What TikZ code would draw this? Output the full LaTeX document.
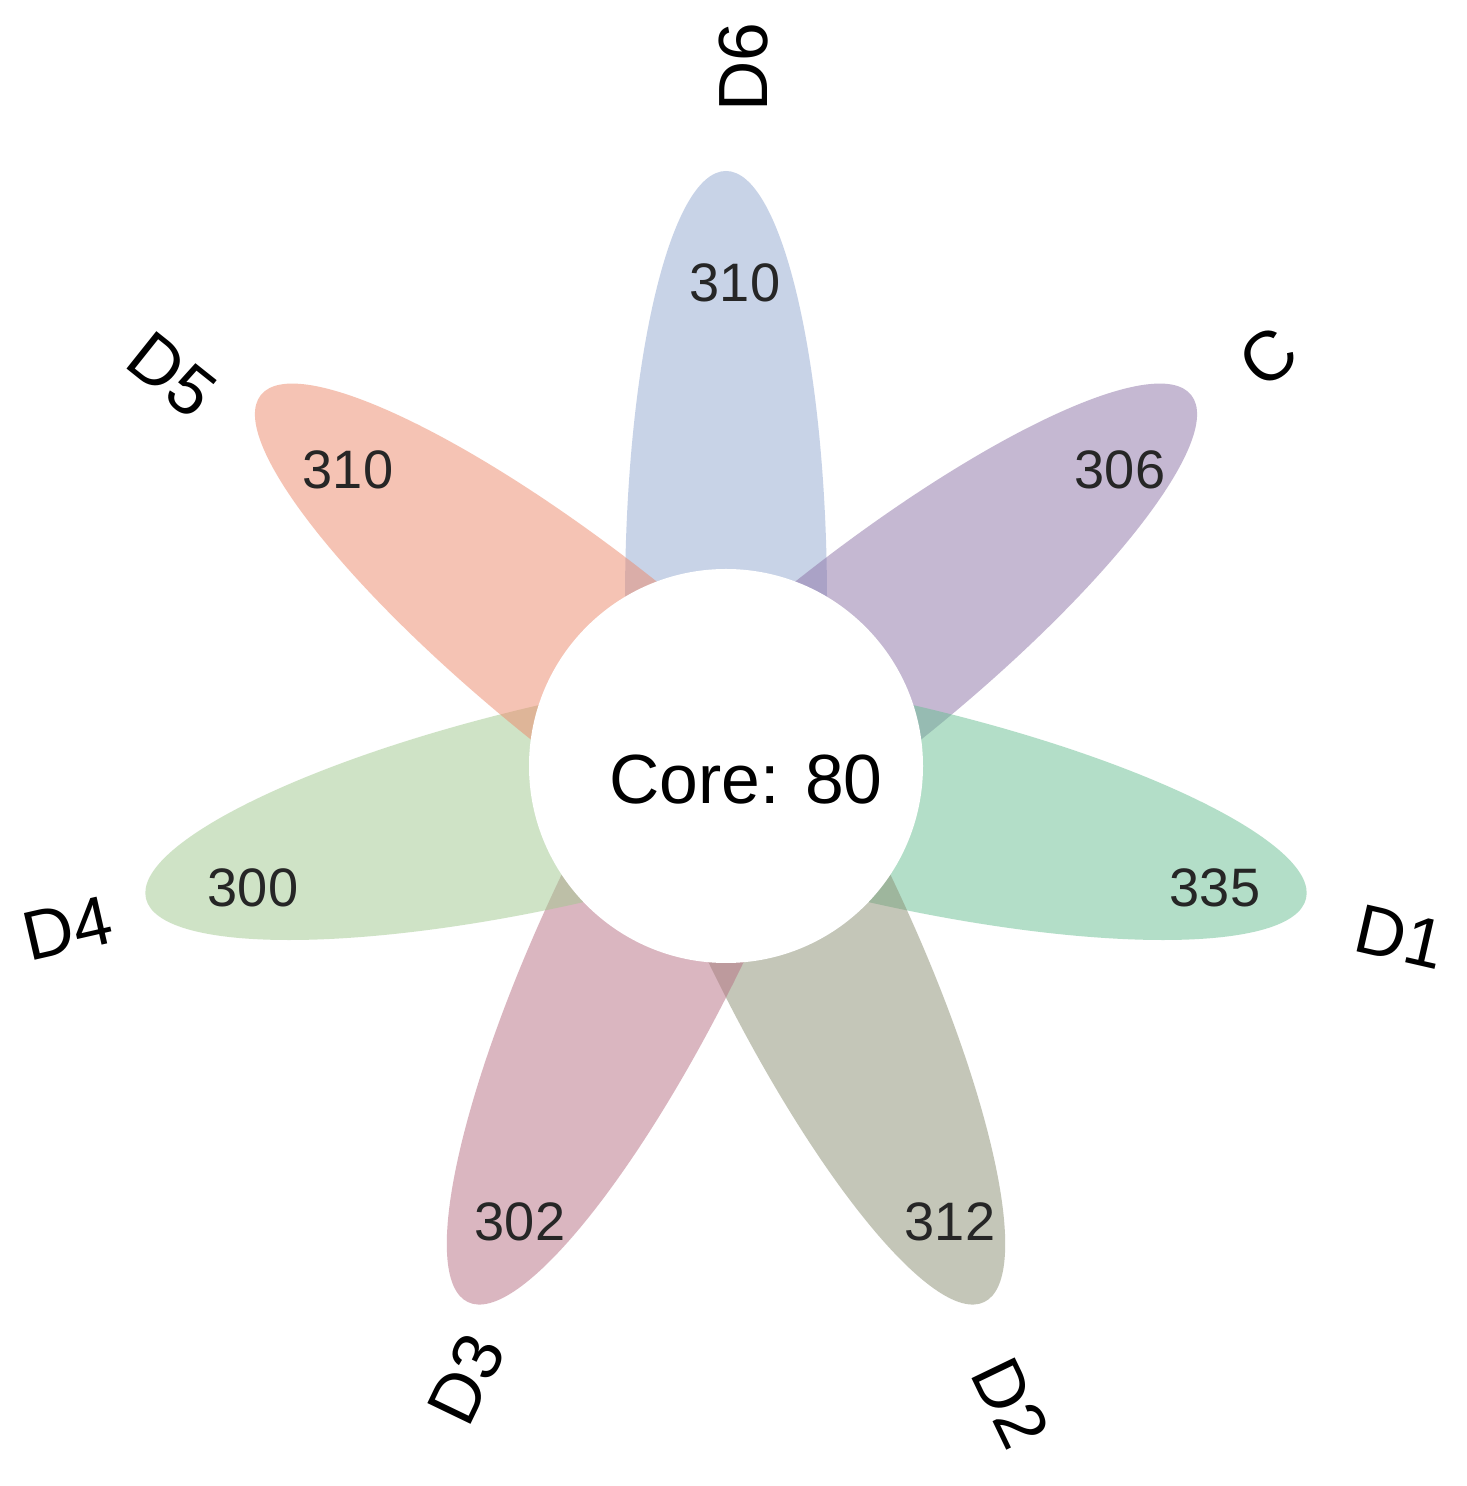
\documentclass[tikz,border=0pt]{standalone}
\usepackage{fontspec}
\setmainfont{Liberation Sans}
\definecolor{cD6}{RGB}{147,169,209}
\definecolor{cC}{RGB}{141,115,167}
\definecolor{cDa}{RGB}{105,191,147}
\definecolor{cDb}{RGB}{139,143,115}
\definecolor{cDc}{RGB}{183,111,131}
\definecolor{cDd}{RGB}{161,201,143}
\definecolor{cDe}{RGB}{237,137,107}
\tikzset{
  petal/.style={fill opacity=0.5},
  setlabel/.style={font=\fontsize{19.8}{24}\selectfont, inner sep=0pt},
  count/.style={font=\fontsize{15.4}{18}\selectfont, inner sep=0pt, text=black!85},
  corelabel/.style={font=\fontsize{19.8}{24}\selectfont, inner sep=0pt},
}
\newcommand{\drawpetal}[2]{%
  \begin{scope}[rotate=#1]
    \clip (0,-160) rectangle (700,160);
    \fill[petal, #2] (165,0) ellipse [x radius=430, y radius=101];
  \end{scope}}
\begin{document}
\begin{tikzpicture}[x=0.01cm,y=0.01cm]
\useasboundingbox (-726,-720) rectangle (740,766);
\fill[white] (-726,-720) rectangle (740,766);
\drawpetal{90}{cD6}
\drawpetal{38.5714}{cC}
\drawpetal{-12.8571}{cDa}
\drawpetal{-64.2857}{cDb}
\drawpetal{-115.7143}{cDc}
\drawpetal{-167.1429}{cDd}
\drawpetal{141.4286}{cDe}
\fill[white] (0,0) circle [radius=197];
\node[corelabel] (core) at (20,-14) {Core: 80};
\node[count] (nD6) at (9,483) {310};
\node[count] (nC) at (394,296) {306};
\node[count] (nD1) at (489,-122) {335};
\node[count] (nD2) at (224,-456) {312};
\node[count] (nD3) at (-206,-456) {302};
\node[count] (nD4) at (-473,-122) {300};
\node[count] (nD5) at (-378,296) {310};
\node[setlabel, rotate=90] (lD6) at (18,699) {D6};
\node[setlabel, rotate=38.5714] (lC) at (542,409) {C};
\node[setlabel, rotate=-12.8571] (lD1) at (674,-171) {D1};
\node[setlabel, rotate=-64.2857] (lD2) at (285,-637) {D2};
\node[setlabel, rotate=64.2857] (lD3) at (-260,-613) {D3};
\node[setlabel, rotate=12.8571] (lD4) at (-658,-162) {D4};
\node[setlabel, rotate=-38.5714] (lD5) at (-554,391) {D5};
\end{tikzpicture}
\end{document}
